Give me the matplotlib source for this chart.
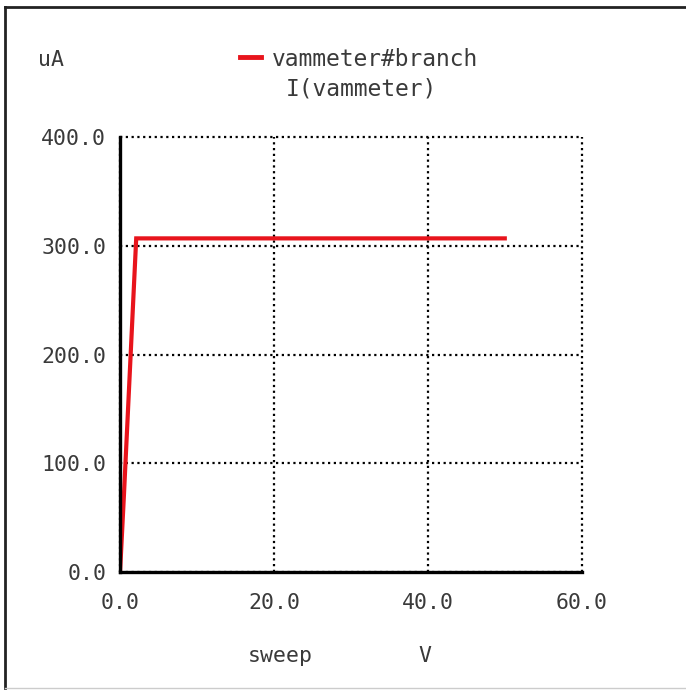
import numpy as np
import matplotlib.pyplot as plt
from matplotlib.lines import Line2D

# sweep (V) vs I(vammeter) (uA)
sweep_v = [0.0, 0.5, 2.1, 50.0]
current_ua = [0.0, 70.0, 307.0, 307.0]

x_ticks = [0, 20, 40, 60]
y_ticks = [0, 100, 200, 300, 400]

mono = 'DejaVu Sans Mono'
txt = '#3a3a3a'

fig = plt.figure(figsize=(6.86, 6.90), dpi=100)
ax = fig.add_axes([0.175, 0.171, 0.673, 0.630])

ax.plot(sweep_v, current_ua, color='#e8141c', lw=3.0, solid_joinstyle='miter', zorder=3)

ax.set_xlim(0, 60)
ax.set_ylim(0, 400)
ax.set_xticks(x_ticks)
ax.set_yticks(y_ticks)
ax.set_xticklabels([f'{v:.1f}' for v in x_ticks], family=mono, fontsize=15.5, color=txt)
ax.set_yticklabels([f'{v:.1f}' for v in y_ticks], family=mono, fontsize=15.5, color=txt)
ax.tick_params(axis='x', length=0, pad=15)
ax.tick_params(axis='y', length=0, pad=10)

ax.grid(True, color='black', linestyle=(0, (1, 1.6)), lw=1.6)
for gl in ax.get_xgridlines() + ax.get_ygridlines():
    gl.set_clip_on(False)
for s in ['top', 'right']:
    ax.spines[s].set_visible(False)
for s in ['left', 'bottom']:
    ax.spines[s].set_linewidth(2.4)
    ax.spines[s].set_zorder(4)
ax.set_axisbelow(True)

# labels like the spice plot window
fig.text(38 / 686, 1 - 60 / 690, 'uA', family=mono, fontsize=15.5, color=txt, va='center')
fig.text(272 / 686, 1 - 60 / 690, 'vammeter#branch', family=mono, fontsize=16.5, color=txt, va='center')
fig.text(286 / 686, 1 - 89 / 690, 'I(vammeter)', family=mono, fontsize=16.5, color=txt, va='center')
fig.add_artist(Line2D([240 / 686, 261 / 686], [1 - 57 / 690, 1 - 57 / 690], color='#e8141c', lw=3.5))
fig.text(280 / 686, 1 - 656 / 690, 'sweep', family=mono, fontsize=15.5, color=txt, ha='center', va='center')
fig.text(425 / 686, 1 - 656 / 690, 'V', family=mono, fontsize=15.5, color=txt, ha='center', va='center')

# window frame
fig.add_artist(Line2D([5 / 686, 1], [1 - 7 / 690, 1 - 7 / 690], color='#222222', lw=2.0))
fig.add_artist(Line2D([5 / 686, 5 / 686], [1 - 7 / 690, 2 / 690], color='#222222', lw=2.0))
fig.add_artist(Line2D([5 / 686, 1], [2 / 690, 2 / 690], color='#cccccc', lw=1.0))

fig.savefig('out.png', dpi=100)
